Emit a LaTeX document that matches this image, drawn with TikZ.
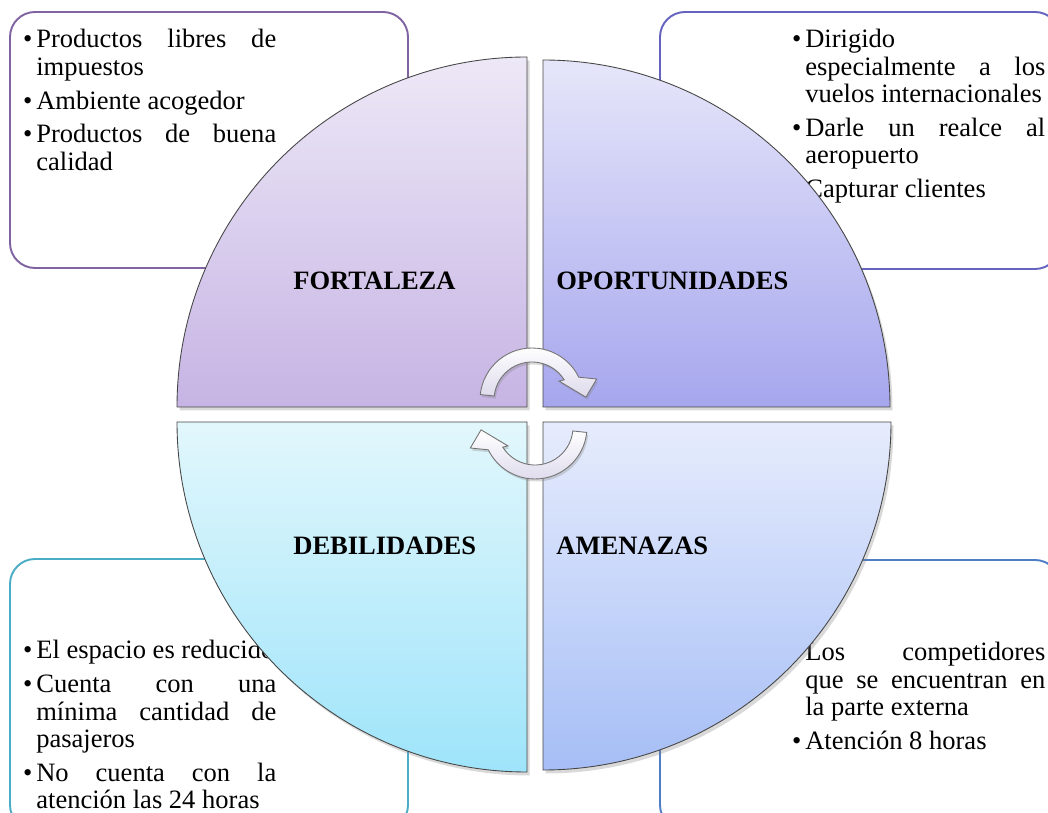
\documentclass[tikz,border=0pt]{standalone}
\usepackage{fontspec}
\setmainfont{Liberation Serif}
\usetikzlibrary{shadows}

\definecolor{fortBorde}{HTML}{8064A2}
\definecolor{oporBorde}{HTML}{6464BE}
\definecolor{debiBorde}{HTML}{4BACC6}
\definecolor{amenBorde}{HTML}{4F7DC6}
\definecolor{fortTop}{RGB}{237,232,247}
\definecolor{fortBot}{RGB}{198,180,228}
\definecolor{oporTop}{RGB}{230,230,250}
\definecolor{oporBot}{RGB}{166,166,238}
\definecolor{debiTop}{RGB}{226,247,252}
\definecolor{debiBot}{RGB}{158,228,250}
\definecolor{amenTop}{RGB}{230,236,252}
\definecolor{amenBot}{RGB}{166,190,246}
\definecolor{flechaBot}{RGB}{222,218,236}

\newcommand{\swotbul}{\noindent\llap{\textbullet\hspace{0.08cm}}}
\newcommand{\swotnext}{\par\vspace{0.13cm}\swotbul}

\tikzset{
  quad/.style={draw=gray!55!black, line width=0.5pt,
    drop shadow={opacity=0.3, shadow xshift=0.05cm, shadow yshift=-0.07cm}},
  giro/.style={draw=gray!90!black, line width=0.5pt, top color=white, bottom color=flechaBot,
    drop shadow={opacity=0.3, shadow xshift=0.03cm, shadow yshift=-0.05cm}}
}

\begin{document}
\begin{tikzpicture}[x=0.02cm, y=0.02cm]
\useasboundingbox (0,0) rectangle (1048,812);

% cuadros de texto
\begin{scope}[line width=1.1pt, rounded corners=0.5cm]
    \draw[fortBorde] (10,800) rectangle (408,544);
    \draw[oporBorde] (660,800) rectangle (1060,543);
    \draw[debiBorde] (10,253) rectangle (408,-18);
    \draw[amenBorde] (660,252) rectangle (1060,-18);
\end{scope}

\begin{scope}[every node/.style={text width=4.8cm, align=justify, inner sep=0pt,
              anchor=north west, font=\fontsize{15.1}{15.6}\selectfont}]
  \node (fortTxt) at (36,783) {\swotbul Productos libres de\linebreak impuestos
      \swotnext Ambiente acogedor
      \swotnext Productos de buena\linebreak calidad};
  \node (oporTxt) at (805,783) {\swotbul Dirigido\linebreak especialmente a los\linebreak vuelos internacionales
      \swotnext Darle un realce al\linebreak aeropuerto
      \swotnext Capturar clientes};
  \node (debiTxt) at (36,172) {\swotbul El espacio es reducido
      \swotnext Cuenta con una\linebreak mínima cantidad de\linebreak pasajeros
      \swotnext No cuenta con la\linebreak atención las 24 horas};
  \node (amenTxt) at (805,170) {\swotbul Los competidores\linebreak que se encuentran en\linebreak la parte externa
      \swotnext Atención 8 horas};
\end{scope}

% cuadrantes
\draw[quad, top color=fortTop, bottom color=fortBot]
    (527,405) -- (177,405) arc[start angle=180, end angle=90, radius=350] -- cycle;
\draw[quad, top color=oporTop, bottom color=oporBot]
    (543,405) -- (543,752) arc[start angle=90, end angle=0, radius=347] -- cycle;
\draw[quad, top color=debiTop, bottom color=debiBot]
    (527,390) -- (527,40) arc[start angle=270, end angle=180, radius=350] -- cycle;
\draw[quad, top color=amenTop, bottom color=amenBot]
    (543,390) -- (891,390) arc[start angle=0, end angle=-90, radius=348] -- cycle;

\begin{scope}[every node/.style={anchor=base west, inner sep=0pt,
              font=\fontsize{15.1}{18}\selectfont\bfseries}]
  \node (fortaleza) at (293,522) {FORTALEZA};
  \node (oportunidades) at (556,522) {OPORTUNIDADES};
  \node (debilidades) at (293,257) {DEBILIDADES};
  \node (amenazas) at (556,257) {AMENAZAS};
\end{scope}

% flechas de giro
\begin{scope}[shift={(532,412)}]
  \draw[giro] (174:52) arc[start angle=174, end angle=26, radius=52] -- (18:68) -- (3:54)
      -- (35:33) -- (32:38) arc[start angle=32, end angle=174, radius=38] -- cycle;
\end{scope}
\begin{scope}[shift={(535,385)}]
  \draw[giro] (354:52) arc[start angle=354, end angle=206, radius=52] -- (198:68) -- (183:54)
      -- (215:33) -- (212:38) arc[start angle=212, end angle=354, radius=38] -- cycle;
\end{scope}
\end{tikzpicture}
\end{document}
